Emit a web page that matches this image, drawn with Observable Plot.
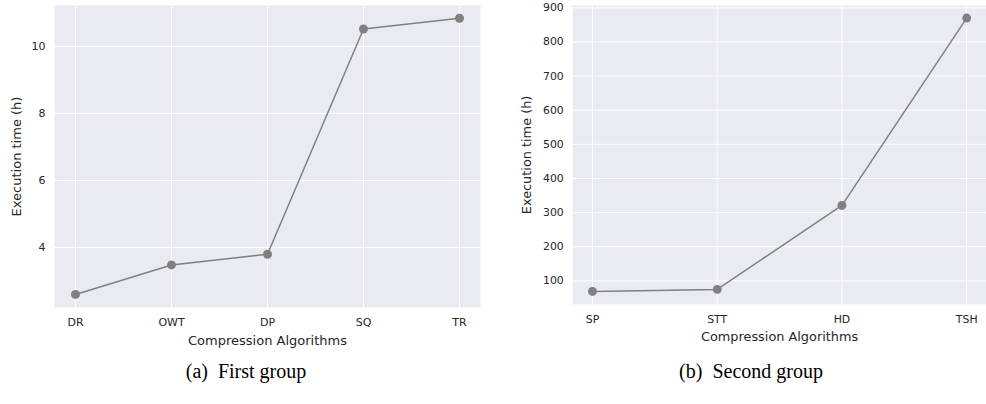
<!DOCTYPE html>
<html>
<head>
<meta charset="utf-8">
<script src="https://cdn.jsdelivr.net/npm/d3@7"></script>
<script src="https://cdn.jsdelivr.net/npm/@observablehq/plot@0.6"></script>
<style>
  html, body { margin: 0; padding: 0; background: #fff; overflow: hidden; width: 986px; height: 404px; }
  #wrap { position: relative; width: 986px; height: 404px; }
  .panel { position: absolute; top: 0; }
  .panel svg { overflow: visible; }
  .cap { position: absolute; font-family: "Liberation Serif", "Times New Roman", serif; font-size: 20px; color: #000; white-space: pre; transform: translateX(-50%); }
  g[aria-label="x-axis label"], g[aria-label="y-axis label"] { font-size: 13px; }
</style>
</head>
<body>
<div id="wrap">
  <div id="left" class="panel" style="left:0px"></div>
  <div id="right" class="panel" style="left:490px"></div>
  <div class="cap" style="left:246px; top:360px">(a)  First group</div>
  <div class="cap" style="left:751px; top:360px">(b)  Second group</div>
</div>
<script>
// Data: first group
const groupA = ["DR", "OWT", "DP", "SQ", "TR"];
const timesA = [2.60, 3.48, 3.80, 10.52, 10.84];
const ticksA = [4, 6, 8, 10];
// Data: second group
const groupB = ["SP", "STT", "HD", "TSH"];
const timesB = [69, 75, 321, 870];
const ticksB = [100, 200, 300, 400, 500, 600, 700, 800, 900];

const xLabel = "Compression Algorithms";
const yLabel = "Execution time (h)";

function panel({cats, vals, ticks, yDomain, width, marginLeft, marginRight, xPad, yLabelOffset}) {
  const data = cats.map((c, i) => ({c, v: vals[i]}));
  return Plot.plot({
    width, height: 352,
    marginLeft, marginRight, marginTop: 5, marginBottom: 45,
    style: {fontFamily: "'DejaVu Sans', sans-serif", fontSize: "11px", color: "#262626", background: "transparent"},
    x: {type: "point", domain: cats, padding: xPad},
    y: {domain: yDomain},
    marks: [
      Plot.frame({fill: "#EAEAF2", stroke: null}),
      Plot.gridX(cats, {stroke: "white", strokeOpacity: 1, strokeWidth: 1}),
      Plot.gridY(ticks, {stroke: "white", strokeOpacity: 1, strokeWidth: 1}),
      Plot.axisX({tickSize: 0, tickPadding: 11, label: xLabel, labelAnchor: "center", labelArrow: "none", labelOffset: 37}),
      Plot.axisY(ticks, {tickSize: 0, tickPadding: 9, label: yLabel, labelAnchor: "center", labelArrow: "none", labelOffset: yLabelOffset}),
      Plot.line(data, {x: "c", y: "v", stroke: "#808080", strokeWidth: 1.5}),
      Plot.dot(data, {x: "c", y: "v", r: 4.5, fill: "#808080", stroke: null})
    ]
  });
}

document.getElementById("left").append(panel({
  cats: groupA, vals: timesA, ticks: ticksA, yDomain: [2.21, 11.22],
  width: 490, marginLeft: 54, marginRight: 10, xPad: 0.2, yLabelOffset: 43
}));
document.getElementById("right").append(panel({
  cats: groupB, vals: timesB, ticks: ticksB, yDomain: [31, 907],
  width: 501, marginLeft: 83, marginRight: 0, xPad: 0.15, yLabelOffset: 51
}));
</script>
</body>
</html>
